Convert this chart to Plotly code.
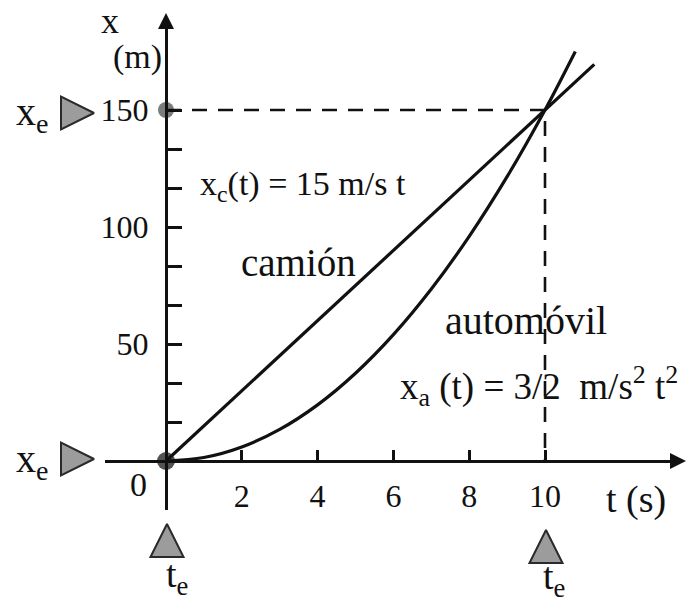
import plotly.graph_objects as go

# ---- data -------------------------------------------------------------
# camión: uniform motion x_c(t) = 15 m/s * t
t_camion = [0.0, 11.3]
x_camion = [0.0, 169.5]

# automóvil: x_a(t) = 3/2 m/s^2 * t^2, read at whole seconds
t_auto = [0, 1, 2, 3, 4, 5, 6, 7, 8, 9, 10, 10.8]
x_auto = [0, 1.5, 6, 13.5, 24, 37.5, 54, 73.5, 96, 121.5, 150, 175]

# encounter point
t_enc = 10
x_enc = 150

# axis ticks
x_tick_vals = [2, 4, 6, 8, 10]
x_tick_text = ["2", "4", "6", "8", "10"]
y_tick_vals = [50 / 3, 100 / 3, 50, 200 / 3, 250 / 3, 100, 350 / 3, 400 / 3, 150]
y_tick_text = ["", "", "50", "", "", "100", "", "", "150"]

# ---- figure geometry ---------------------------------------------------
W, H = 688, 603
X0_PX, X_SCALE = 166.0, 37.9      # px of t=0, px per second
Y0_PX, Y_SCALE = 461.0, 2.34      # px of x=0, px per metre


def t_of(px):
    return (px - X0_PX) / X_SCALE


def x_of(py):
    return (Y0_PX - py) / Y_SCALE


XL, XR = 105, 680     # horizontal axis extent (px)
YB, YT = 510, 20      # vertical axis extent (px)

FONT = "Liberation Serif"
INK = "#111111"

fig = go.Figure()

# reference dashed lines through the encounter point
fig.add_trace(go.Scatter(x=[0, t_enc, t_enc], y=[x_enc, x_enc, 0], mode="lines",
                         xaxis="x2", yaxis="y2",
                         line=dict(color=INK, width=2.6, dash="15px,11px"),
                         hoverinfo="skip"))

# truck and car
fig.add_trace(go.Scatter(x=t_camion, y=x_camion, mode="lines",
                         xaxis="x2", yaxis="y2",
                         line=dict(color=INK, width=3.2), hoverinfo="skip"))
fig.add_trace(go.Scatter(x=t_auto, y=x_auto, mode="lines", line_shape="spline",
                         xaxis="x2", yaxis="y2",
                         line=dict(color=INK, width=3.2), hoverinfo="skip"))

# axis arrowheads (full-page axes so nothing is culled)
fig.add_trace(go.Scatter(x=[0, t_of(686)], y=[x_of(13), 0], mode="markers",
                         marker=dict(symbol=["arrow-up", "arrow-right"], size=16,
                                     color=INK, line=dict(width=0)),
                         cliponaxis=False, hoverinfo="skip"))

# starting and meeting points on the x axis
fig.add_trace(go.Scatter(x=[0, 0], y=[0, x_enc], mode="markers",
                         marker=dict(size=[18, 16], color=["#0a0a0a", "#444444"],
                                     line=dict(width=0)),
                         cliponaxis=False, hoverinfo="skip"))

# grey pointer triangles for x_e and t_e
fig.add_trace(go.Scatter(x=[t_of(94), t_of(94)], y=[x_of(113), x_of(459)], mode="markers",
                         marker=dict(symbol="arrow-right", size=33, color="#9c9c9c",
                                     line=dict(color="#2a2a2a", width=2)),
                         cliponaxis=False, hoverinfo="skip"))
fig.add_trace(go.Scatter(x=[t_of(167), t_of(546)], y=[x_of(524), x_of(530)], mode="markers",
                         marker=dict(symbol="arrow-up", size=33, color="#9c9c9c",
                                     line=dict(color="#2a2a2a", width=2)),
                         cliponaxis=False, hoverinfo="skip"))


def note(px, py, text, size, xanchor="center"):
    fig.add_annotation(x=px / W, y=1 - py / H, xref="paper", yref="paper",
                       text=text, showarrow=False, xanchor=xanchor, yanchor="middle",
                       font=dict(family=FONT, size=size, color=INK))


note(110, 21, "x", 36)
note(137, 57, "(m)", 34)
note(32, 114, "x<sub>e</sub>", 40)
note(32, 461, "x<sub>e</sub>", 40)
note(138, 484, "0", 34)
note(636, 499, "t (s)", 38)
note(177, 577, "t<sub>e</sub>", 38)
note(554, 579, "t<sub>e</sub>", 38)
note(303, 186, "x<sub>c</sub>(t) = 15 m/s t", 34)
note(298, 262, "camión", 39)
note(526, 320, "automóvil", 40)
note(539, 386, "x<sub>a</sub> (t) = 3/2  m/s<sup>2</sup> t<sup>2</sup>", 37)

fig.update_layout(
    width=W, height=H, margin=dict(l=0, r=0, t=0, b=0),
    paper_bgcolor="white", plot_bgcolor="rgba(0,0,0,0)",
    showlegend=False,
    # full-page hidden axes that carry the decorations
    xaxis=dict(domain=[0, 1], range=[t_of(0), t_of(W)], visible=False, fixedrange=True),
    yaxis=dict(domain=[0, 1], range=[x_of(H), x_of(0)], visible=False, fixedrange=True),
    # drawn axes crossing at the origin
    xaxis2=dict(domain=[XL / W, XR / W], range=[t_of(XL), t_of(XR)],
                anchor="free", position=1 - Y0_PX / H,
                showline=True, linecolor=INK, linewidth=3,
                showgrid=False, zeroline=False,
                ticks="inside", ticklen=10, tickwidth=3, tickcolor=INK,
                tickvals=x_tick_vals, ticktext=x_tick_text,
                ticklabelstandoff=6,
                tickfont=dict(family=FONT, size=32, color=INK)),
    yaxis2=dict(domain=[1 - YB / H, 1 - YT / H], range=[x_of(YB), x_of(YT)],
                anchor="free", position=X0_PX / W,
                showline=True, linecolor=INK, linewidth=3,
                showgrid=False, zeroline=False,
                ticks="inside", ticklen=14, tickwidth=3, tickcolor=INK,
                tickvals=y_tick_vals, ticktext=y_tick_text,
                ticklabelstandoff=10,
                tickfont=dict(family=FONT, size=32, color=INK)),
)

fig.write_html("out.html")
